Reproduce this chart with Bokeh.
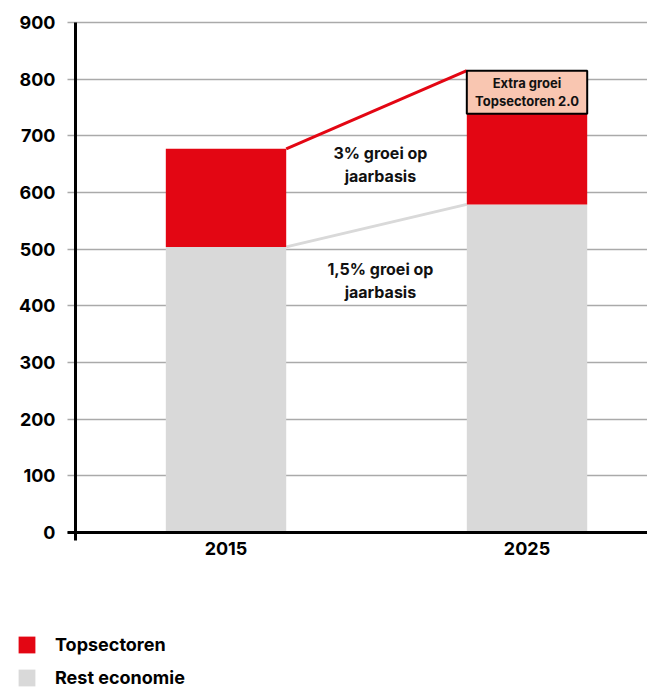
from bokeh.plotting import figure
from bokeh.models import Range1d, FixedTicker, Legend, LegendItem
from bokeh.core.properties import value
from bokeh.embed import file_html
from bokeh.resources import INLINE

# ---- data ----
years = [2015, 2025]
year_labels = ["2015", "2025"]
rest_economie = [504, 579]
topsectoren = [173, 160]
extra_groei = [0, 76]
y_ticks = [0, 100, 200, 300, 400, 500, 600, 700, 800, 900]
growth_labels = ["3% groei op\njaarbasis", "1,5% groei op\njaarbasis"]
growth_label_x = [2020.13, 2020.13]
growth_label_y = [650, 444]
extra_label = "Extra groei\nTopsectoren 2.0"
legend_labels = ["Topsectoren", "Rest economie"]

# ---- style ----
RED = "#e30613"
GREY = "#d9d9d9"
PEACH = "#f9c6b1"
GRID = "#aaaaaa"
FONT = "Inter"
BAR_W = 4
AXIS_X = 2010
X_LO, X_HI = 2007.508, 2029.003
Y_LO, Y_HI = -277.1, 938.8

p = figure(width=647, height=689, output_backend="svg", toolbar_location=None,
           x_range=Range1d(X_LO, X_HI), y_range=Range1d(Y_LO, Y_HI),
           min_border=0)
p.outline_line_color = None
p.background_fill_color = "white"
p.border_fill_color = "white"

tot = [r + t for r, t in zip(rest_economie, topsectoren)]
full = [t + e for t, e in zip(tot, extra_groei)]

# connecting lines
p.segment(x0=[years[0] + BAR_W / 2] * 2, y0=[full[0], rest_economie[0]],
          x1=[years[1] - BAR_W / 2] * 2, y1=[full[1], rest_economie[1]],
          line_color=[RED, GREY], line_width=3)

r_rest = p.vbar(x=years, width=BAR_W, bottom=0, top=rest_economie,
                fill_color=GREY, line_color=None)
r_top = p.vbar(x=years, width=BAR_W, bottom=rest_economie, top=tot,
               fill_color=RED, line_color=None)

ex_x = [y for y, e in zip(years, extra_groei) if e > 0]
ex_b = [t for t, e in zip(tot, extra_groei) if e > 0]
ex_t = [f for f, e in zip(full, extra_groei) if e > 0]
p.vbar(x=ex_x, width=BAR_W, bottom=ex_b, top=ex_t,
       fill_color=PEACH, line_color="black", line_width=2)
p.text(x=ex_x, y=[(b + t) / 2 for b, t in zip(ex_b, ex_t)], text=[extra_label] * len(ex_x),
       text_font=value(FONT), text_font_style="bold", text_font_size="13px",
       text_align="center", text_baseline="middle", text_color="#111111",
       text_line_height=1.12)

p.text(x=growth_label_x, y=growth_label_y, text=growth_labels,
       text_font=value(FONT), text_font_style="bold", text_font_size="16px",
       text_align="center", text_baseline="middle", text_color="#111111",
       text_line_height=1.15)

# grid
p.xgrid.visible = False
p.ygrid.ticker = FixedTicker(ticks=y_ticks)
p.ygrid.grid_line_color = GRID
p.ygrid.grid_line_width = 1.5
p.ygrid.bounds = (0, 900)
p.ygrid.cross_bounds = (AXIS_X - 0.28, X_HI)

# axes
ya = p.yaxis[0]
ya.fixed_location = AXIS_X
ya.bounds = (-14, 900)
ya.ticker = FixedTicker(ticks=y_ticks)
ya.axis_line_color = "black"
ya.axis_line_width = 3
ya.major_tick_out = 0
ya.major_tick_in = 0
ya.minor_tick_line_color = None
ya.major_label_text_font = FONT
ya.major_label_text_font_style = "bold"
ya.major_label_text_font_size = "18px"
ya.major_label_text_color = "black"
ya.major_label_standoff = 20

xa = p.xaxis[0]
xa.fixed_location = 0
xa.bounds = (AXIS_X - 0.28, X_HI)
xa.ticker = FixedTicker(ticks=years)
xa.major_label_overrides = {y: l for y, l in zip(years, year_labels)}
xa.axis_line_color = "black"
xa.axis_line_width = 3
xa.major_tick_out = 0
xa.major_tick_in = 0
xa.minor_tick_line_color = None
xa.major_label_text_font = FONT
xa.major_label_text_font_style = "bold"
xa.major_label_text_font_size = "18px"
xa.major_label_text_color = "black"
xa.major_label_standoff = 10

legend = Legend(items=[LegendItem(label=legend_labels[0], renderers=[r_top]),
                       LegendItem(label=legend_labels[1], renderers=[r_rest])],
                location=(16, 1), orientation="vertical",
                glyph_width=21, glyph_height=21, label_standoff=18, spacing=12,
                padding=0, margin=0,
                label_text_font=FONT, label_text_font_style="bold",
                label_text_font_size="18px", label_text_color="black",
                border_line_color=None, background_fill_alpha=0)
p.add_layout(legend, "center")

open("out.html", "w").write(file_html(p, INLINE))
